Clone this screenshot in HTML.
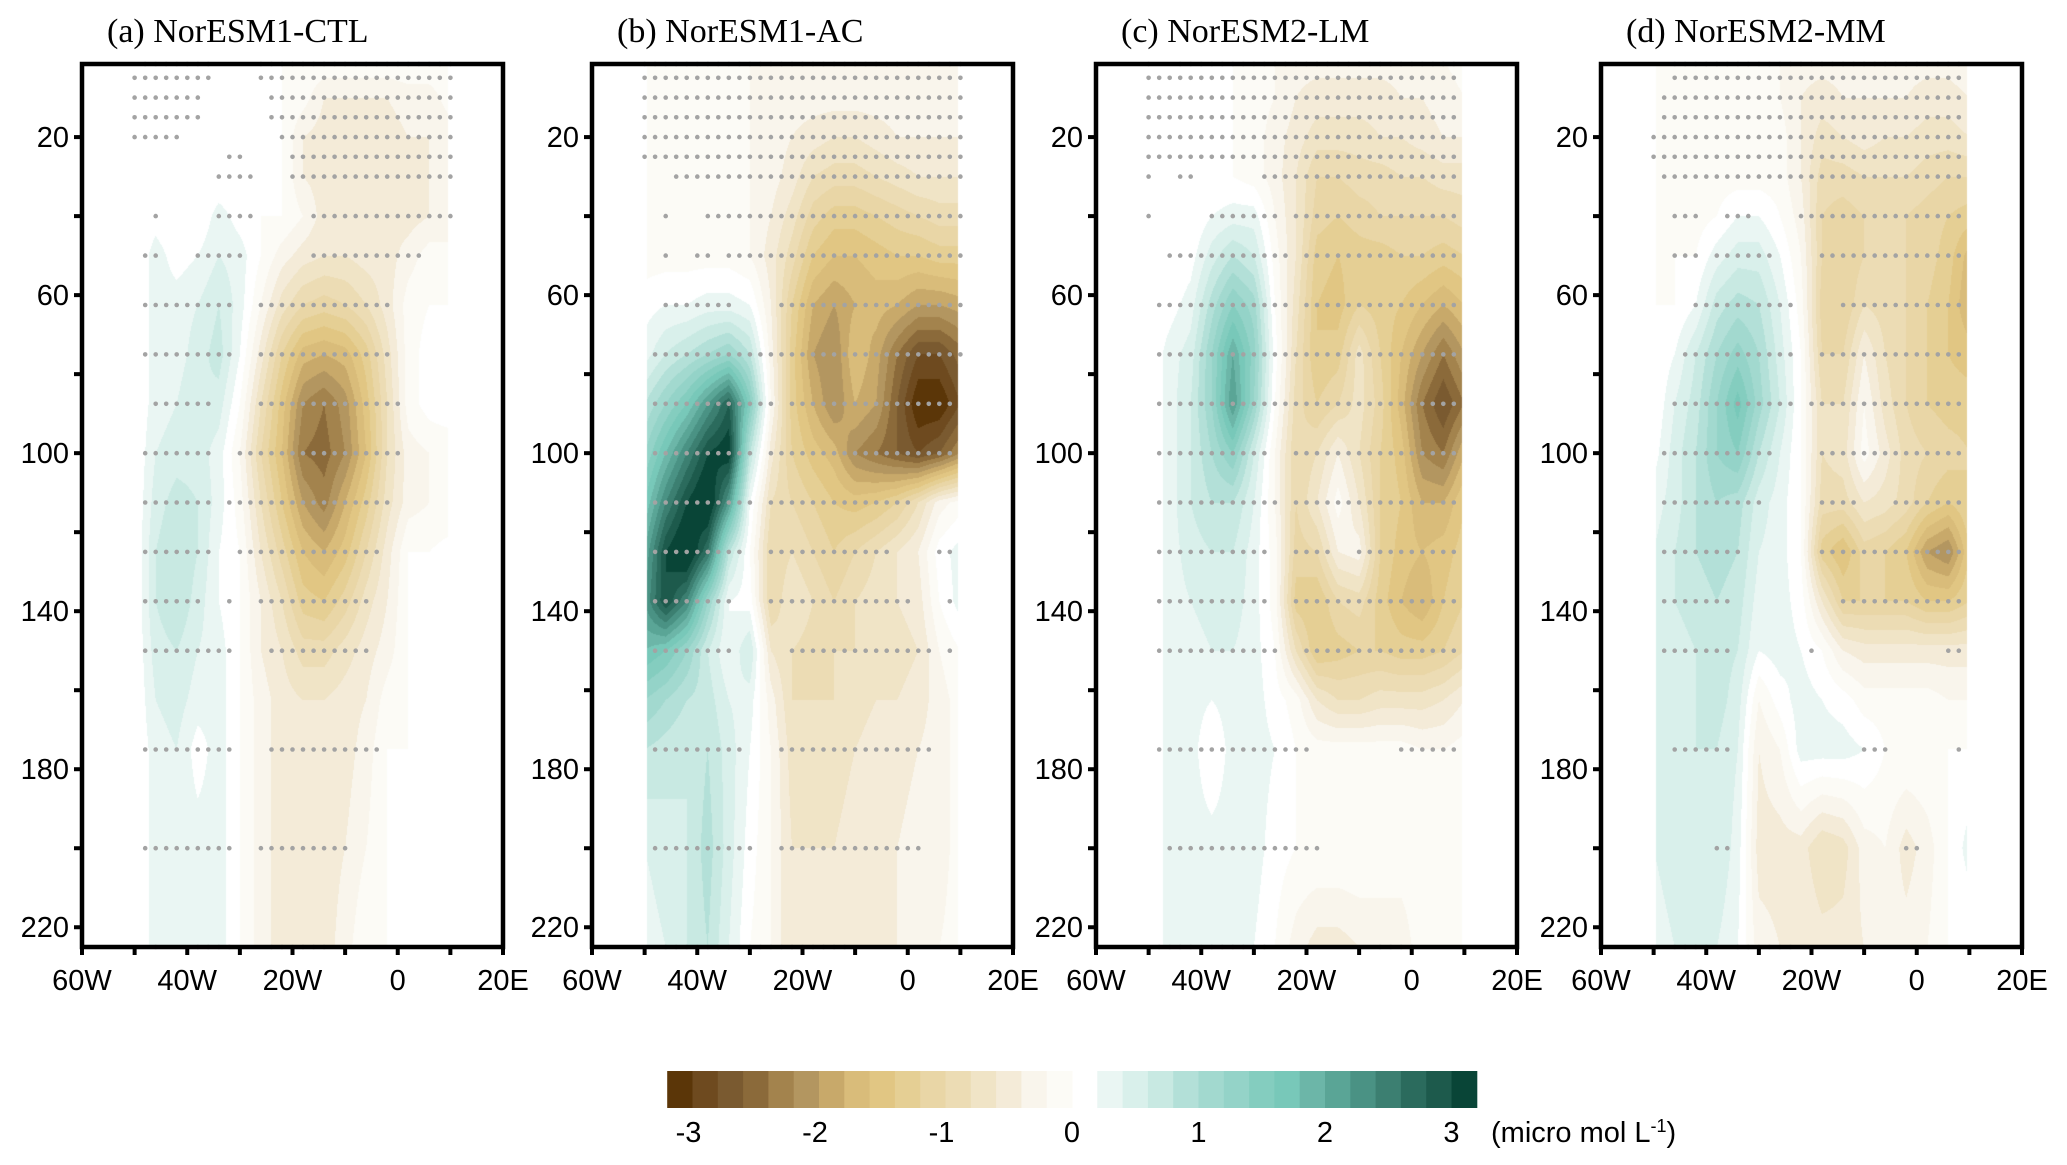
<!DOCTYPE html>
<html><head><meta charset="utf-8">
<style>
html,body{margin:0;padding:0;background:#fff;}
#wrap{position:relative;width:2067px;height:1165px;overflow:hidden;background:#fff;}
canvas{position:absolute;}
svg{position:absolute;left:0;top:0;}
text{font-family:"Liberation Sans",sans-serif;font-size:29px;fill:#000;}
.ttl{font-family:"Liberation Serif",serif;font-size:34px;}
</style></head>
<body>
<div id="wrap">
<svg id="svg" width="2067" height="1165"></svg>
</div>
<script>
const xCols=[-50,-46,-42,-38,-34,-30,-26,-22,-18,-14,-10,-6,-2,2,6,10];
const depthRows=[0,10,20,30,40,50,62.5,75,87.5,100,112.5,125,137.5,150,162.5,175,200,225];
const valuesA=[
[0,0,0,0,0,0,0,0,0,0,0,0,0,0,0,0],
[0,0,0,0,0,0,0,0,-.1,-.4,-.4,-.4,-.4,-.3,-.3,-.1],
[0,0,0,0,0,0,0,0,-.4,-.5,-.5,-.5,-.5,-.4,-.4,-.3],
[0,0,0,0,0,0,0,0,-.4,-.5,-.5,-.5,-.5,-.5,-.4,-.4],
[0,.1,0,0,.3,.1,0,0,-.2,-.5,-.5,-.5,-.5,-.5,-.4,-.4],
[0,.3,.1,.2,.4,.3,0,-.3,-.5,-.6,-.6,-.5,-.5,-.3,-.1,-.1],
[0,.3,.3,.4,.6,.3,-.2,-.7,-1.0,-1.1,-1.0,-.8,-.5,-.1,0,0],
[0,.3,.3,.5,.7,.2,-.5,-1.2,-1.7,-1.8,-1.7,-1.3,-.7,-.1,.1,.2],
[0,.3,.4,.6,.5,0,-.8,-1.5,-2.2,-2.4,-2.1,-1.5,-.8,-.1,.1,.2],
[0,.4,.5,.5,.3,-.2,-1.0,-1.6,-2.4,-2.5,-2.2,-1.6,-.8,-.3,-.2,-.2],
[0,.5,.7,.6,.3,-.1,-.8,-1.4,-2.0,-2.3,-1.8,-1.3,-.7,-.3,-.2,-.2],
[0,.6,.8,.6,.2,0,-.6,-1.1,-1.6,-1.8,-1.5,-1.0,-.5,0,0,.1],
[0,.6,.8,.5,.2,0,-.4,-.8,-1.3,-1.4,-1.1,-.7,-.4,0,0,.2],
[0,.5,.6,.4,.3,0,-.4,-.6,-.9,-.9,-.7,-.5,-.3,0,0,0],
[0,.4,.5,.3,.3,0,-.3,-.5,-.6,-.6,-.5,-.4,-.1,0,0,0],
[0,.3,.4,.1,.3,0,-.3,-.5,-.5,-.5,-.5,-.3,0,0,0,0],
[0,.3,.3,.3,.3,0,-.3,-.5,-.5,-.5,-.4,-.2,0,0,0,0],
[0,.3,.3,.3,.3,0,-.3,-.5,-.5,-.5,-.3,0,0,0,.2,.1]];
const valuesB=[
[-.1,-.1,-.1,-.1,-.1,-.2,-.2,-.2,-.2,-.2,-.2,-.2,-.2,-.2,-.2,-.2],
[-.1,-.1,-.1,-.1,-.1,-.2,-.3,-.3,-.3,-.3,-.3,-.3,-.3,-.3,-.3,-.3],
[-.1,-.1,-.1,-.1,-.1,-.2,-.3,-.4,-.5,-.6,-.6,-.5,-.4,-.4,-.4,-.4],
[-.1,-.1,-.1,-.1,-.1,-.2,-.3,-.5,-.8,-.9,-.9,-.8,-.7,-.6,-.6,-.6],
[-.1,-.1,-.1,-.1,-.1,-.2,-.4,-.7,-1.1,-1.3,-1.3,-1.2,-1.1,-1.0,-.9,-.9],
[-.1,-.1,-.1,-.1,-.1,-.2,-.5,-.9,-1.4,-1.6,-1.6,-1.5,-1.4,-1.4,-1.3,-1.3],
[.1,.2,.2,.3,.3,.2,-.4,-1.2,-1.8,-2.0,-1.8,-1.7,-1.8,-2.0,-2.0,-1.9],
[.3,.6,.8,1.0,1.2,.8,-.3,-1.3,-2.0,-2.2,-1.6,-1.9,-2.4,-2.8,-2.8,-2.5],
[.8,1.2,1.6,2.2,2.8,1.5,-.2,-1.3,-1.8,-2.2,-1.8,-2.0,-2.6,-3.2,-3.2,-2.8],
[1.2,1.8,2.4,3.0,3.2,.8,-.5,-1.2,-1.5,-1.7,-2.2,-2.4,-2.6,-2.8,-2.6,-2.2],
[1.6,2.4,3.0,3.4,2.2,.2,-.8,-1.0,-1.2,-1.4,-1.5,-1.4,-1.2,-.8,-.3,-.1],
[2.0,3.0,3.4,2.6,.8,0,-1.0,-.8,-1.0,-1.2,-1.0,-.8,-.6,-.4,.1,.3],
[2.2,3.0,2.4,1.2,.2,.1,-1.0,-.6,-.8,-1.0,-.8,-.7,-.6,-.5,0,.3],
[1.8,1.6,1.2,.6,.2,.6,-.6,-.8,-.9,-.8,-.8,-.8,-.7,-.6,-.2,0],
[1.2,1.0,.8,.7,.4,.3,-.3,-.8,-.8,-.8,-.7,-.6,-.6,-.5,-.3,-.1],
[.8,.7,.6,.8,.5,.2,-.2,-.7,-.7,-.7,-.6,-.5,-.5,-.4,-.3,-.1],
[.4,.5,.6,.9,.5,.1,-.2,-.6,-.6,-.6,-.5,-.5,-.4,-.3,-.3,-.1],
[.3,.4,.6,.8,.4,0,-.2,-.6,-.6,-.6,-.5,-.5,-.4,-.3,-.2,-.1]];
const valuesC=[
[0,0,0,0,0,-.1,-.2,-.3,-.3,-.3,-.3,-.3,-.3,-.3,-.2,-.1],
[0,0,0,0,0,-.1,-.2,-.4,-.5,-.5,-.5,-.5,-.4,-.4,-.3,-.2],
[0,0,0,0,0,-.1,-.3,-.5,-.7,-.7,-.7,-.6,-.6,-.5,-.4,-.4],
[0,0,0,0,0,-.1,-.3,-.6,-1.0,-1.0,-.9,-.9,-.8,-.8,-.7,-.7],
[0,0,0,.2,.3,.3,-.2,-.6,-1.1,-1.2,-1.1,-1.0,-1.0,-1.0,-1.0,-.9],
[0,0,.1,.5,.8,.6,-.1,-.6,-1.3,-1.4,-1.3,-1.3,-1.2,-1.2,-1.3,-1.2],
[0,.1,.3,.9,1.4,1.1,0,-.7,-1.4,-1.5,-1.2,-1.3,-1.4,-1.6,-1.8,-1.6],
[0,.3,.5,1.2,2.0,1.3,.1,-.8,-1.4,-1.3,-.7,-1.2,-1.6,-2.0,-2.4,-2.0],
[0,.3,.6,1.2,2.2,1.2,0,-.9,-1.2,-1.0,-.7,-1.1,-1.7,-2.4,-2.8,-2.4],
[0,.3,.6,1.0,1.4,.6,-.2,-1.0,-.8,-.4,-.8,-1.2,-1.5,-2.2,-2.4,-1.8],
[0,.3,.6,.8,.8,.4,-.2,-1.0,-.6,-.1,-.6,-1.2,-1.4,-1.8,-1.8,-1.4],
[0,.3,.5,.6,.6,.3,-.1,-1.1,-1.0,-.4,-.3,-1.2,-1.5,-1.6,-1.5,-1.3],
[0,.3,.4,.5,.5,.3,-.1,-1.3,-1.4,-1.0,-.9,-1.3,-1.6,-1.8,-1.4,-1.2],
[0,.3,.3,.4,.4,.3,0,-.8,-1.4,-1.3,-1.2,-1.2,-1.3,-1.3,-1.2,-1.0],
[0,.3,.3,.2,.3,.3,.1,-.1,-.6,-.8,-.8,-.7,-.7,-.7,-.6,-.4],
[0,.3,.3,0,.3,.3,.2,0,-.1,-.1,-.1,-.1,-.1,-.2,-.2,-.1],
[0,.3,.3,.3,.3,.3,.1,0,0,0,0,-.1,-.1,-.1,-.1,0],
[0,.3,.3,.3,.3,.2,0,-.3,-.5,-.5,-.4,-.3,-.3,-.1,0,0]];
const valuesD=[
[-.1,-.1,-.1,-.1,-.1,-.1,-.2,-.3,-.3,-.3,-.3,-.3,-.3,-.3,-.3,-.2],
[-.1,-.1,-.1,-.1,-.1,-.1,-.2,-.4,-.5,-.4,-.4,-.4,-.4,-.5,-.5,-.4],
[-.1,-.1,-.1,-.1,-.1,-.1,-.1,-.4,-.7,-.6,-.5,-.6,-.6,-.7,-.7,-.6],
[-.1,-.1,-.1,-.1,-.1,-.1,-.1,-.4,-.9,-.9,-.8,-.8,-.8,-.9,-1.0,-1.0],
[-.1,-.1,-.1,0,.2,.2,0,-.3,-1.0,-1.1,-1.0,-1.0,-1.0,-1.1,-1.2,-1.3],
[-.1,0,0,.3,.5,.5,.2,-.2,-1.0,-1.2,-1.0,-1.0,-1.0,-1.1,-1.3,-1.7],
[0,0,.2,.7,.9,.8,.4,-.1,-1.1,-1.2,-.8,-.9,-1.0,-1.2,-1.4,-1.8],
[0,.2,.6,1.0,1.3,1.0,.5,0,-1.0,-1.0,-.4,-.8,-1.0,-1.2,-1.4,-1.5],
[0,.4,.7,1.2,1.7,1.1,.6,0,-.8,-.8,-.2,-.7,-1.0,-1.2,-1.3,-1.3],
[.1,.5,.8,1.2,1.4,.8,.4,0,-.8,-.7,-.1,-.5,-.9,-1.0,-1.1,-1.2],
[.3,.5,.8,1.0,.9,.5,.3,0,-.9,-.9,-.6,-.7,-.9,-1.2,-1.4,-1.2],
[.4,.6,.8,.9,.8,.4,.3,0,-1.3,-1.6,-1.1,-1.2,-1.4,-2.0,-2.2,-1.4],
[.4,.6,.7,.8,.7,.3,.3,.1,-.6,-1.2,-1.2,-1.2,-1.2,-1.4,-1.4,-1.2],
[.4,.5,.6,.7,.6,.2,.3,.2,0,-.4,-.5,-.5,-.5,-.5,-.5,-.5],
[.4,.5,.6,.7,.5,-.2,.1,.3,.2,.1,-.1,-.1,-.1,-.1,-.2,-.2],
[.4,.5,.6,.6,.4,-.4,-.2,.3,.3,.3,.2,0,0,0,0,0],
[.4,.5,.5,.6,.3,-.5,-.5,-.5,-.8,-.7,-.3,-.2,-.5,-.3,0,.3],
[.3,.4,.4,.4,.2,-.3,-.4,-.4,-.5,-.5,-.4,-.3,-.3,-.2,0,0]];
const stippleDepths=[1.5,5,10,15,20,25,30,40,50,62.5,75,87.5,100,112.5,125,137.5,150,175,200,225];
const stippleA=[
[[-48,-36],[-26,10]],[[-50,-36],[-26,10]],[[-50,-38],[-24,10]],[[-50,-38],[-24,10]],
[[-50,-42],[-22,10]],[[-32,-30],[-20,10]],[[-34,-28],[-20,10]],[[-46,-46],[-34,-28],[-16,10]],
[[-48,-46],[-38,-30],[-16,4]],[[-48,-32],[-26,-2]],[[-48,-32],[-26,-2]],[[-46,-36],[-26,0]],
[[-48,-36],[-30,0]],[[-48,-36],[-32,-2]],[[-48,-36],[-30,-4]],[[-48,-38],[-32,-32],[-26,-6]],
[[-48,-32],[-24,-6]],[[-48,-32],[-24,-4]],[[-48,-32],[-26,-10]],[[-46,-46],[-38,-32],[-24,-14]]];
const stippleB=[
[[-50,10]],[[-50,10]],[[-50,10]],[[-50,10]],[[-50,10]],[[-50,10]],[[-44,10]],[[-46,-46],[-38,10]],
[[-46,-46],[-40,-38],[-34,10]],[[-46,-34],[-24,10]],[[-48,-26],[-24,10]],[[-48,-26],[-22,8]],
[[-48,-30],[-26,8]],[[-48,-30],[-26,0]],[[-48,-32],[-26,-4],[6,8]],[[-48,-34],[-26,0],[8,8]],
[[-48,-34],[-22,4],[8,8]],[[-48,-32],[-24,4]],[[-48,-30],[-24,2]],[[-46,-34],[-32,-12]]];
const stippleC=[
[[-50,-50],[-44,8]],[[-50,8]],[[-50,8]],[[-50,8]],[[-50,8]],[[-50,8]],[[-50,-50],[-44,-42],[-28,8]],
[[-50,-50],[-38,-26],[-22,8]],[[-46,-24],[-20,8]],[[-48,-24],[-20,8]],[[-48,-24],[-22,8]],
[[-48,-24],[-22,8]],[[-48,-28],[-22,8]],[[-48,-26],[-22,8]],[[-48,-28],[-22,-16],[-10,8]],
[[-48,-28],[-22,8]],[[-48,-26],[-20,8]],[[-48,-20],[-2,8]],[[-46,-18]],[[-48,-28],[-6,0]]];
const stippleD=[
[[-46,8]],[[-46,8]],[[-48,8]],[[-48,8]],[[-50,8]],[[-50,8]],[[-48,8]],[[-46,-42],[-36,-32],[-22,8]],
[[-46,-42],[-38,-28],[-18,8]],[[-42,-24],[-14,8]],[[-44,-24],[-18,8]],[[-46,-24],[-20,8]],
[[-48,-28],[-18,8]],[[-48,-30],[-18,-12],[-4,8]],[[-48,-34],[-18,8]],[[-48,-36],[-14,8]],
[[-48,-36],[-20,-20],[6,8]],[[-46,-36],[-10,-6],[8,8]],[[-38,-36],[-2,0]],[[-46,-40],[-34,-30],[-28,-24]]];
const brownColors=["#5b3608","#6e4a1f","#7a5a30","#8b6a3a","#a3834d","#b39660","#c8a96a","#d9bc7a","#e1c683","#e5cf94","#e9d6a6","#ecdcb4","#f0e4c6","#f4ebd8","#f9f5ec","#fcfbf6"];
const tealColors=["#eaf6f3","#d9f0eb","#c8e9e2","#b3e0d8","#a2d9cf","#94d3c8","#84cdbf","#78c8b9","#6cb6a8","#5aa596","#4a9284","#3c7f71","#2b6b5d","#1d5a4c","#094537"];
const cbTicks=[-3,-2,-1,0,1,2,3];
const xTickVals=[-60,-50,-40,-30,-20,-10,0,10,20];
const xLabelVals=[-60,-40,-20,0,20];
const yTickVals=[20,40,60,80,100,120,140,160,180,200,220];
const yLabelVals=[20,60,100,140,180,220];
const titles=["(a) NorESM1-CTL","(b) NorESM1-AC","(c) NorESM2-LM","(d) NorESM2-MM"];

const NS="http://www.w3.org/2000/svg";
const svg=document.getElementById('svg');
const wrap=document.getElementById('wrap');
const panelLefts=[82,592,1096,1601];
const PW=421,TOP=64,BOT=947,D0=1.5,D1=225;
function sx(left,x){return left+(x+60)/80*PW;}
function sy(d){return TOP+(d-D0)/(D1-D0)*(BOT-TOP);}
function mk(tag,attrs,parent){const e=document.createElementNS(NS,tag);for(const k in attrs)e.setAttribute(k,attrs[k]);(parent||svg).appendChild(e);return e;}
function hex(c){return [parseInt(c.slice(1,3),16),parseInt(c.slice(3,5),16),parseInt(c.slice(5,7),16)];}
const bRGB=brownColors.map(hex),tRGB=tealColors.map(hex);
function colorFor(v){
  if(v<0){let i=Math.floor((v+3.2)/0.2);i=Math.max(0,Math.min(15,i));return bRGB[i];}
  if(v<0.2)return [255,255,255];
  let i=Math.floor((v-0.2)/0.2);i=Math.max(0,Math.min(14,i));return tRGB[i];
}
function findIdx(arr,v){for(let i=0;i<arr.length-1;i++){if(v<=arr[i+1])return i;}return arr.length-2;}
function interp(vals,x,d){
  const j=findIdx(xCols,x),i=findIdx(depthRows,d);
  const tx=(x-xCols[j])/(xCols[j+1]-xCols[j]),ty=(d-depthRows[i])/(depthRows[i+1]-depthRows[i]);
  const a=vals[i][j],b=vals[i][j+1],c=vals[i+1][j],e=vals[i+1][j+1];
  return (a*(1-tx)+b*tx)*(1-ty)+(c*(1-tx)+e*tx)*ty;
}
const allVals=[valuesA,valuesB,valuesC,valuesD];
const allStip=[stippleA,stippleB,stippleC,stippleD];
const names=['a','b','c','d'];
for(let p=0;p<4;p++){
  const L=panelLefts[p];
  const cv=document.createElement('canvas');
  cv.width=PW;cv.height=BOT-TOP;
  cv.style.left=L+'px';cv.style.top=TOP+'px';
  
  
  wrap.insertBefore(cv,svg);
  const ctx=cv.getContext('2d');
  const img=ctx.createImageData(cv.width,cv.height);
  for(let py=0;py<cv.height;py++){
    const d=D0+(py+0.5)/cv.height*(D1-D0);
    for(let px=0;px<cv.width;px++){
      const x=-60+(px+0.5)/PW*80;
      let col=[255,255,255];
      if(x>=-49.5&&x<=9.6){col=colorFor(interp(allVals[p],Math.max(-50,Math.min(10,x)),d));}
      const k=(py*cv.width+px)*4;
      img.data[k]=col[0];img.data[k+1]=col[1];img.data[k+2]=col[2];img.data[k+3]=255;
    }
  }
  ctx.putImageData(img,0,0);
  const g=mk('g',{});
  
  
  const sg=mk('g',{fill:'#a3a3a3'},g);
  
  
  allStip[p].forEach((ranges,ri)=>{
    ranges.forEach(r=>{
      for(let x=r[0];x<=r[1]+0.01;x+=2){
        const c=mk('circle',{cx:sx(L,x).toFixed(1),cy:sy(stippleDepths[ri]).toFixed(1),r:2.3},sg);
        
        
      }
    });
  });
  const fr=mk('rect',{x:L,y:TOP,width:PW,height:BOT-TOP,fill:'none',stroke:'#000','stroke-width':4.5},g);
  
  
  yTickVals.forEach(v=>{
    const t=mk('line',{x1:L-8,x2:L,y1:sy(v),y2:sy(v),stroke:'#000','stroke-width':4},g);
    
    
  });
  yLabelVals.forEach(v=>{
    const t=mk('text',{x:L-13,y:sy(v)+10,'text-anchor':'end'},g);
    t.textContent=v;
    
    
  });
  xTickVals.forEach(v=>{
    const t=mk('line',{x1:sx(L,v),x2:sx(L,v),y1:BOT,y2:BOT+8,stroke:'#000','stroke-width':4},g);
    
    
  });
  xLabelVals.forEach(v=>{
    const lab=v<0?(-v)+'W':(v>0?v+'E':'0');
    const t=mk('text',{x:sx(L,v),y:990,'text-anchor':'middle'},g);
    t.textContent=lab;
    
    
  });
  const tt=mk('text',{x:L+25,y:42,class:'ttl'},g);
  tt.textContent=titles[p];
  
  
}
const CB0=1072,CBU=126.5,CBY=1071,CBH=37;
function cbx(v){return CB0+v*CBU;}
const cb=mk('g',{});


brownColors.forEach((c,i)=>{
  const v0=-3.2+i*0.2;
  const r=mk('rect',{x:cbx(v0),y:CBY,width:cbx(v0+0.2)-cbx(v0)+0.5,height:CBH,fill:c},cb);
  
  
});
tealColors.forEach((c,i)=>{
  const v0=0.2+i*0.2;
  const r=mk('rect',{x:cbx(v0),y:CBY,width:cbx(v0+0.2)-cbx(v0)+0.5,height:CBH,fill:c},cb);
  
  
});
cbTicks.forEach(v=>{
  const t=mk('text',{x:cbx(v)+(v<0?-4:0),y:1142,'text-anchor':'middle'},cb);
  t.textContent=v;
  
  
});
const ut=mk('text',{x:1491,y:1142},cb);
ut.innerHTML='(micro mol L<tspan dy="-10" font-size="18">-1</tspan><tspan dy="10">)</tspan>';


</script>
</body></html>
